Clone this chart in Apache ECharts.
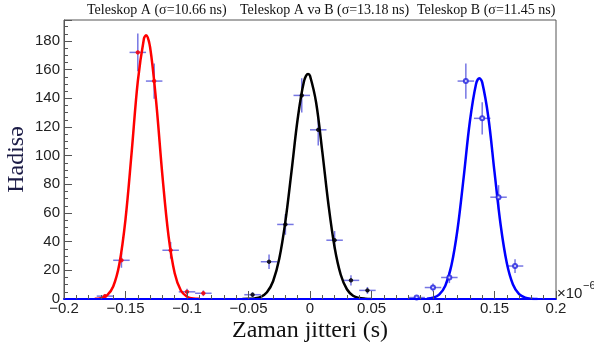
<!DOCTYPE html>
<html>
<head>
<meta charset="utf-8">
<script src="https://cdn.jsdelivr.net/npm/echarts@6/dist/echarts.min.js"></script>
<style>
html,body{margin:0;padding:0;background:#fff;}
#chart{width:594px;height:343px;}
</style>
</head>
<body>
<div id="chart"></div>
<script>
// ---- Data ----
const seriesNames = ['Teleskop A (σ=10.66 ns)', 'Teleskop A və B (σ=13.18 ns)', 'Teleskop B (σ=11.45 ns)'];

// histogram points (bin centres in 1e-6 s, counts, vertical error)
const aX   = [-0.1667, -0.1533, -0.14, -0.1267, -0.1133, -0.1, -0.0867];
const aY   = [2, 27, 172, 152, 34, 5, 4];
const aErr = [1.4, 5.2, 13.1, 12.3, 5.8, 2.2, 2.0];

const abX   = [-0.0467, -0.0333, -0.02, -0.0067, 0.0067, 0.02, 0.0333, 0.0467];
const abY   = [3, 26, 52, 142, 118, 41, 13, 6];
const abErr = [1.7, 5.1, 7.2, 11.9, 10.9, 6.4, 3.6, 2.4];

const bX   = [0.0867, 0.1, 0.1133, 0.1267, 0.14, 0.1533, 0.1667];
const bY   = [1, 8, 15, 152, 126, 71, 23];
const bErr = [1.0, 2.8, 3.9, 12.3, 11.2, 8.4, 4.8];

const binHalfWidth = 0.0067;

// fitted curves, values
const fitAx = [-0.175,-0.17,-0.165,-0.16,-0.155,-0.15,-0.145,-0.14,-0.135,-0.1333,-0.13,-0.125,-0.12,-0.115,-0.11,-0.105,-0.1,-0.095,-0.09];
const fitAy = [0.1,0.6,2.5,8.7,24.4,55.6,102.3,151.8,181.7,184,175.6,137.0,86.2,43.8,17.9,5.9,1.6,0.3,0.1];

const fitABx = [-0.055,-0.05,-0.045,-0.04,-0.035,-0.03,-0.025,-0.02,-0.015,-0.01,-0.005,-0.0016,0,0.005,0.01,0.015,0.02,0.025,0.03,0.035,0.04,0.045,0.05];
const fitABy = [0.0,0.1,0.4,1.5,4.7,12.4,28.0,54.1,89.2,125.7,151.4,157,155.7,136.9,102.8,65.9,36.1,16.9,6.8,2.3,0.7,0.2,0.0];

const fitBx = [0.095,0.1,0.105,0.11,0.115,0.12,0.125,0.13,0.135,0.1377,0.14,0.145,0.15,0.155,0.16,0.165,0.17,0.175,0.18,0.185];
const fitBy = [0.2,0.9,3.1,9.3,23.5,49.0,85.4,124.0,150.0,154,151.1,126.8,88.6,51.6,25.1,10.1,3.4,1.0,0.2,0.0];

// axes
const xTicks = [-0.2, -0.15, -0.1, -0.05, 0, 0.05, 0.1, 0.15, 0.2];
const yTicks = [0, 20, 40, 60, 80, 100, 120, 140, 160, 180];
const yMax = 194.6;

const xTitle = 'Zaman jitteri (s)';
const yTitle = 'Hadisə';

// ---- helpers ----
function zip(xs, ys, es) { return xs.map((x, i) => es ? [x, ys[i], es[i]] : [x, ys[i]]); }

const errColor = 'rgba(60,60,215,0.7)';
function errorBars(params, api) {
  const x = api.value(0), y = api.value(1), e = api.value(2);
  const l = api.coord([x - binHalfWidth, y]);
  const r = api.coord([x + binHalfWidth, y]);
  const t = api.coord([x, y + e]);
  const b = api.coord([x, Math.max(0, y - e)]);
  const st = { stroke: errColor, lineWidth: 1.5 };
  return {
    type: 'group',
    children: [
      { type: 'line', shape: { x1: l[0], y1: l[1], x2: r[0], y2: r[1] }, style: st },
      { type: 'line', shape: { x1: t[0], y1: t[1], x2: b[0], y2: b[1] }, style: st }
    ]
  };
}

function errSeries(data) {
  return { type: 'custom', renderItem: errorBars, data: data, z: 2, silent: true,
           encode: { x: 0, y: 1 } };
}
function fitSeries(name, data, color) {
  return { name: name, type: 'line', data: data, smooth: 0.35, showSymbol: false,
           lineStyle: { color: color, width: 2.5 }, z: 3, silent: true };
}
function ptSeries(name, data, color, symbol, size) {
  return { name: name, type: 'scatter', data: data, symbol: symbol, symbolSize: size,
           itemStyle: { color: color, borderColor: color, borderWidth: 1 },
           z: 4, silent: true };
}

const fmtMinus = v => String(+v.toFixed(2)).replace('-', '\u2212');

const chart = echarts.init(document.getElementById('chart'), null, { renderer: 'canvas' });
chart.setOption({
  animation: false,
  backgroundColor: '#fff',
  grid: { left: 64, right: 38, top: 20, bottom: 44, show: true, borderColor: '#555', borderWidth: 1,
          containLabel: false, outerBoundsMode: 'none' },
  xAxis: {
    type: 'value', min: xTicks[0], max: xTicks[xTicks.length - 1], interval: 0.05, z: 10,
    name: xTitle, nameLocation: 'middle', nameGap: 20, nameMoveOverlap: false,
    nameTextStyle: { fontFamily: 'Liberation Serif', fontSize: 24, color: '#111' },
    axisLine: { show: true, onZero: false, lineStyle: { color: '#0000ff', width: 2 } },
    axisTick: { show: true, inside: true, length: 8, lineStyle: { color: '#555', width: 1 } },
    minorTick: { show: true, splitNumber: 5, length: 4, lineStyle: { color: '#555', width: 1 } },
    axisLabel: { margin: 2, fontFamily: 'Liberation Sans', fontSize: 15, color: '#222', formatter: fmtMinus },
    splitLine: { show: false }
  },
  yAxis: {
    type: 'value', min: yTicks[0], max: yMax, interval: 20, z: 9,
    name: yTitle, nameLocation: 'middle', nameGap: 35, nameMoveOverlap: false,
    nameTextStyle: { fontFamily: 'Liberation Serif', fontSize: 24, color: '#1a1a45' },
    axisLine: { show: true, onZero: false, lineStyle: { color: '#555', width: 1 } },
    axisTick: { show: true, inside: true, length: 8, lineStyle: { color: '#555', width: 1 } },
    minorTick: { show: true, splitNumber: 4, length: 4, lineStyle: { color: '#555', width: 1 } },
    axisLabel: { margin: 4, fontFamily: 'Liberation Sans', fontSize: 15, color: '#222', showMaxLabel: false,
                 formatter: v => (yTicks.indexOf(v) >= 0 ? String(v) : '') },
    splitLine: { show: false }
  },
  graphic: [
    { type: 'text', left: 87, top: 3, style: { text: seriesNames[0], font: '14px "Liberation Serif"', fill: '#111' } },
    { type: 'text', left: 240, top: 3, style: { text: seriesNames[1], font: '14px "Liberation Serif"', fill: '#111' } },
    { type: 'text', left: 417, top: 3, style: { text: seriesNames[2], font: '14px "Liberation Serif"', fill: '#111' } },
    { type: 'text', left: 557, top: 286, style: { text: '\u00d710', font: '15px "Liberation Sans"', fill: '#222' } },
    { type: 'text', left: 583, top: 280, style: { text: '\u22126', font: '11px "Liberation Sans"', fill: '#222' } }
  ],
  series: [
    errSeries(zip(aX, aY, aErr)),
    errSeries(zip(abX, abY, abErr)),
    errSeries(zip(bX, bY, bErr)),
    fitSeries(seriesNames[0], zip(fitAx, fitAy), '#ff0000'),
    fitSeries(seriesNames[1], zip(fitABx, fitABy), '#000000'),
    fitSeries(seriesNames[2], zip(fitBx, fitBy), '#0000ff'),
    ptSeries(seriesNames[0], zip(aX, aY), '#ff0000', 'circle', 3.5),
    ptSeries(seriesNames[1], zip(abX, abY), '#000000', 'circle', 3.5),
    ptSeries(seriesNames[2], zip(bX, bY), '#2020e0', 'emptyCircle', 4)
  ]
});
</script>
</body>
</html>
